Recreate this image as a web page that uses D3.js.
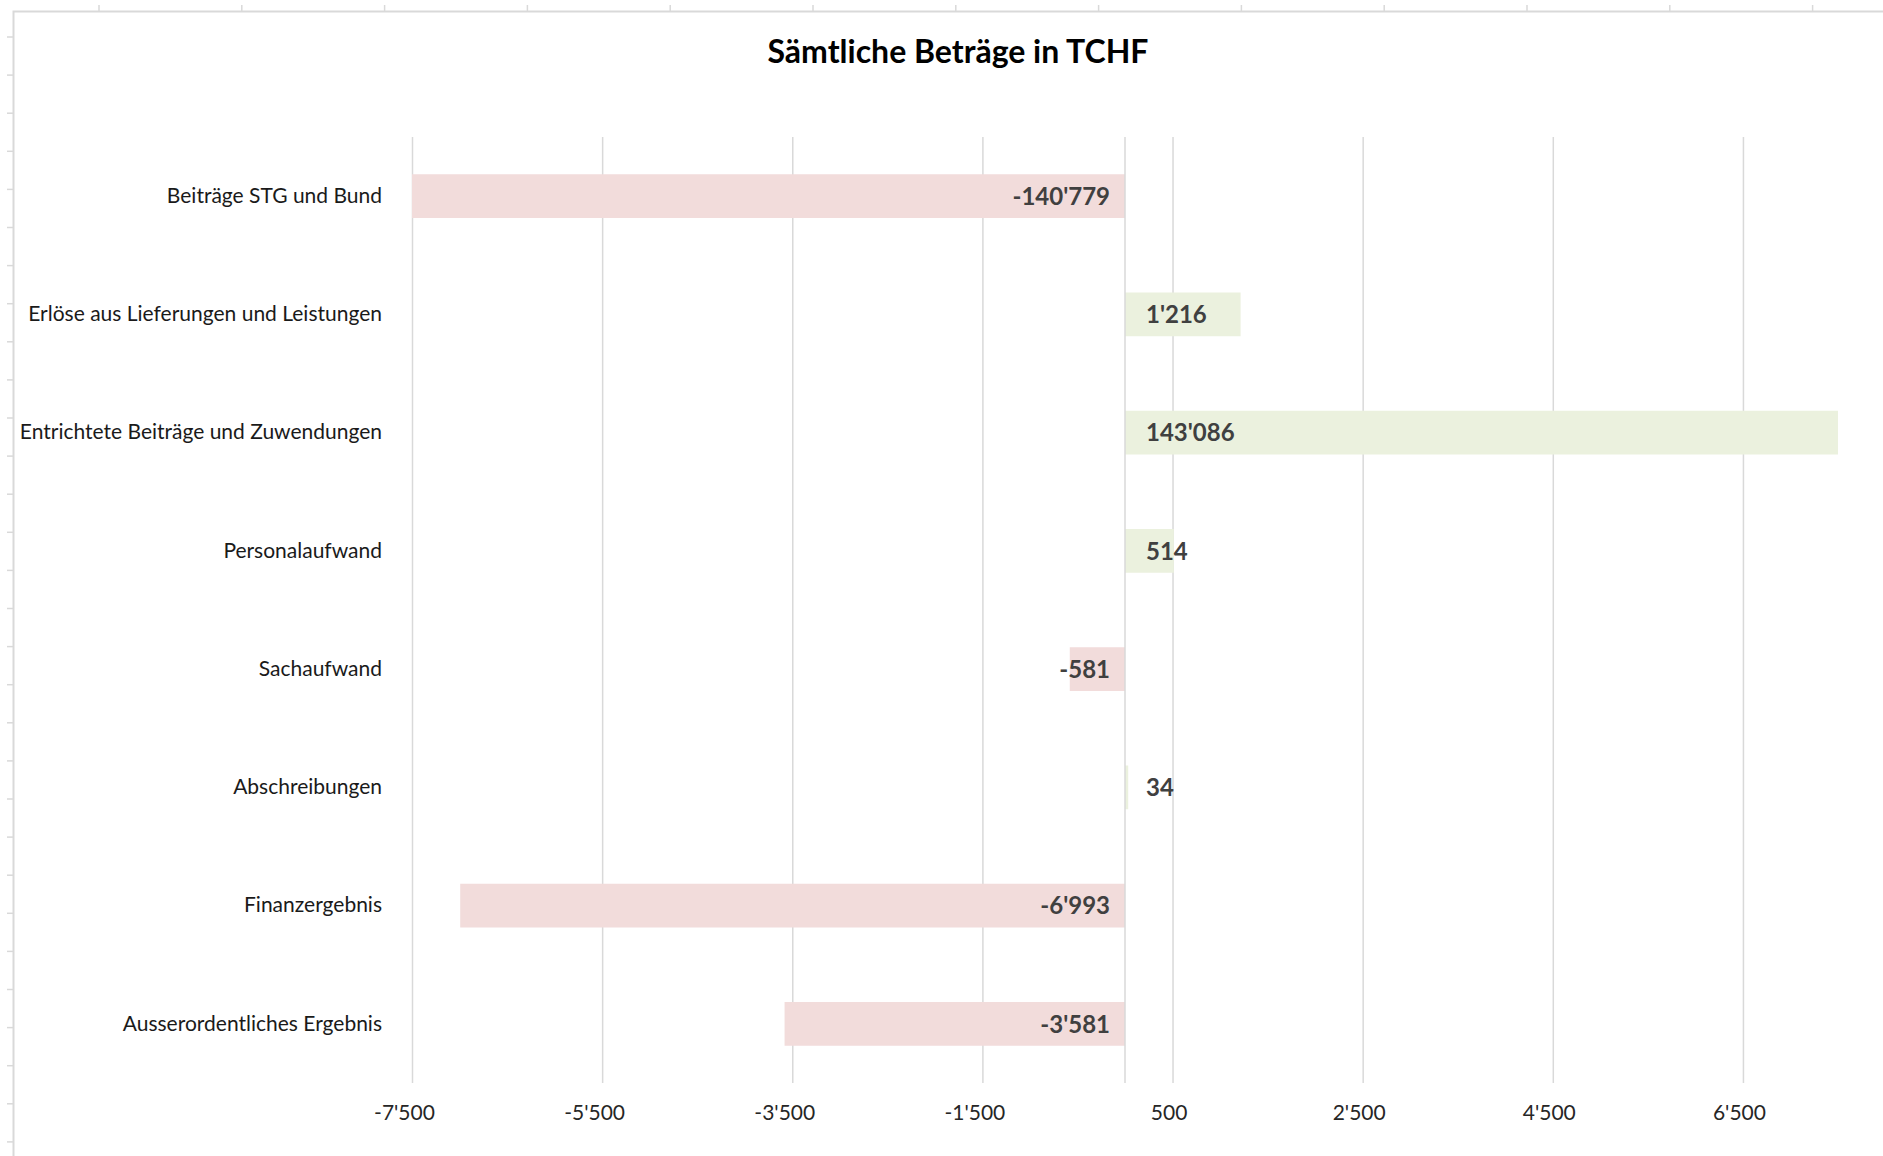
<!DOCTYPE html>
<html>
<head>
<meta charset="utf-8">
<script src="https://cdn.jsdelivr.net/npm/d3@7"></script>
<style>
    body { margin: 0; background: #fff; }
    svg { display: block; font-family: Lato, 'Open Sans', sans-serif; }
</style>
</head>
<body>
<div id="chart"></div>
<script>
let categories = [
    'Beiträge STG und Bund',
    'Erlöse aus Lieferungen und Leistungen',
    'Entrichtete Beiträge und Zuwendungen',
    'Personalaufwand',
    'Sachaufwand',
    'Abschreibungen',
    'Finanzergebnis',
    'Ausserordentliches Ergebnis'
];
let values = [-140779, 1216, 143086, 514, -581, 34, -6993, -3581];
let ticks = [-7500, -5500, -3500, -1500, 500, 2500, 4500, 6500];
let title = 'Sämtliche Beträge in TCHF';

(function() {
    let width = 1883, height = 1156;
    let plot = { left: 412, right: 1838, top: 137, bottom: 1083 };

    // swiss style: 1'234
    let locale = d3.formatLocale({ decimal: '.', thousands: "'", grouping: [3], currency: ['', ''], minus: '-' });
    let fmt = locale.format(',');

    let svg = d3.select('#chart')
        .append('svg')
        .attr('width', width)
        .attr('height', height);

    // spreadsheet cells peeking out around the chart object
    let sheet = svg.append('g').attr('stroke', '#d9d9d9');
    sheet.selectAll('.colmark')
        .data(d3.range(99, width, 142.8))
        .enter()
        .append('line')
        .attr('x1', d => d).attr('x2', d => d)
        .attr('y1', 5).attr('y2', 11)
        .attr('stroke-width', 1.5);
    sheet.selectAll('.rowmark')
        .data(d3.range(37, height, 38.1))
        .enter()
        .append('line')
        .attr('x1', 7).attr('x2', 13)
        .attr('y1', d => d).attr('y2', d => d)
        .attr('stroke-width', 1.5);
    sheet.append('path')
        .attr('d', `M13.5,${height}V11.5H${width}`)
        .attr('fill', 'none')
        .attr('stroke-width', 2);

    let x = d3.scaleLinear()
        .domain([-7500, 7500])
        .range([plot.left, plot.right])
        .clamp(true);

    let y = d3.scaleBand()
        .domain(categories)
        .range([plot.top, plot.bottom])
        .paddingInner(0.63)
        .paddingOuter(0.315);

    let rows = categories.map((c, i) => ({ name: c, value: values[i] }));

    // vertical gridlines
    let grid = svg.append('g')
        .attr('transform', `translate(0,${plot.bottom})`)
        .call(d3.axisBottom(x).tickValues(ticks).tickSize(-(plot.bottom - plot.top)).tickFormat(''));
    grid.select('.domain').remove();
    grid.selectAll('line').attr('stroke', '#d9d9d9').attr('stroke-width', 1.5);

    // bars
    svg.selectAll('.bar')
        .data(rows)
        .enter()
        .append('rect')
        .attr('class', 'bar')
        .attr('x', d => x(Math.min(0, d.value)))
        .attr('y', d => y(d.name))
        .attr('width', d => Math.abs(x(d.value) - x(0)))
        .attr('height', y.bandwidth())
        .attr('fill', d => d.value < 0 ? '#f2dcdb' : '#ebf1de');

    // zero axis line
    svg.append('line')
        .attr('x1', x(0)).attr('x2', x(0))
        .attr('y1', plot.top).attr('y2', plot.bottom)
        .attr('stroke', '#d9d9d9')
        .attr('stroke-width', 1.5);

    // value labels at the base of each bar
    svg.selectAll('.val')
        .data(rows)
        .enter()
        .append('text')
        .attr('class', 'val')
        .attr('x', d => d.value < 0 ? x(0) - 15 : x(0) + 21)
        .attr('y', d => y(d.name) + y.bandwidth() / 2)
        .attr('dy', '0.36em')
        .attr('text-anchor', d => d.value < 0 ? 'end' : 'start')
        .attr('font-size', 24)
        .attr('font-weight', 'bold')
        .attr('fill', '#404040')
        .text(d => fmt(d.value));

    // category axis
    let yAxis = svg.append('g')
        .attr('transform', `translate(390,0)`)
        .call(d3.axisLeft(y).tickSize(0).tickPadding(8));
    yAxis.select('.domain').remove();
    yAxis.selectAll('text')
        .attr('font-size', 21)
        .attr('font-family', "Lato, 'Open Sans', sans-serif")
        .attr('fill', '#1a1a1a');

    // value axis labels (excel sets them a bit left of the gridline)
    let xAxis = svg.append('g')
        .attr('transform', `translate(0,${plot.bottom})`)
        .call(d3.axisBottom(x).tickValues(ticks).tickSize(0).tickFormat(fmt));
    xAxis.select('.domain').remove();
    xAxis.selectAll('text')
        .attr('y', 29)
        .attr('dy', '0.36em')
        .attr('dx', d => d < 0 ? -8 : -4)
        .attr('font-size', 21)
        .attr('font-family', "Lato, 'Open Sans', sans-serif")
        .attr('fill', '#262626');

    svg.append('text')
        .attr('x', 958)
        .attr('y', 63)
        .attr('text-anchor', 'middle')
        .attr('font-size', 32)
        .attr('font-weight', 'bold')
        .attr('fill', '#000')
        .text(title);
})();
</script>
</body>
</html>
